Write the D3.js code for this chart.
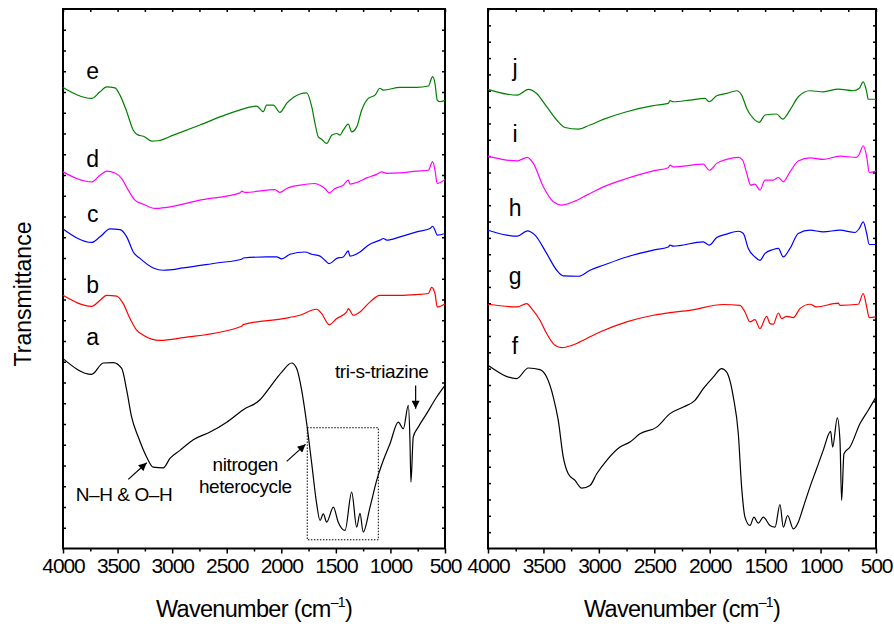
<!DOCTYPE html>
<html>
<head>
<meta charset="utf-8">
<script src="https://cdn.jsdelivr.net/npm/d3@7"></script>
<style>
    body { margin: 0; background: #fff; }
    svg { font-family: Arial, "Liberation Sans", sans-serif; }
</style>
</head>
<body>
<svg id="chart" width="894" height="626"></svg>
<script>
// ftir spectra, transmittance in arbitrary units (curves are stacked)

// left panel
const wnA = [4000,3737,3631,3539,3462,3416,3371,3310,3233,3173,3081,3020,2928,2806,2653,2500,2348,2195,2103,1996,1905,1859,1813,1767,1721,1676,1645,1615,1584,1523,1478,1416,1355,1309,1279,1249,1187,1126,1065,1004,928,882,836,821,812,791,745,668,576,500]
const tA = [9.15,8.39,8.94,8.96,8.68,7.62,6.33,5.37,4.40,3.92,3.89,4.34,4.73,5.24,5.61,6.09,6.69,7.17,7.78,8.50,8.94,8.67,7.62,6.02,4.09,2.16,1.35,1.67,1.27,1.99,1.27,0.87,2.72,1.03,1.69,0.79,1.99,3.28,4.25,5.05,6.09,5.77,6.90,5.21,3.20,5.37,5.85,6.50,7.30,7.86]

const wnB = [4000,3737,3661,3600,3508,3448,3386,3325,3264,3111,2898,2363,2348,1982,1829,1676,1630,1560,1492,1401,1386,1340,1279,1203,1096,912,759,653,622,592,571,500]
const tB = [12.20,11.67,11.96,12.20,12.16,11.80,11.08,10.52,10.28,10.03,10.16,10.71,10.79,11.08,11.24,11.53,11.32,10.79,11.08,11.40,11.56,11.24,11.40,11.80,12.20,12.20,12.24,12.29,12.58,12.29,11.64,11.80]

const wnC = [4000,3737,3661,3569,3478,3416,3356,3295,3173,3081,2898,2592,2363,2348,2134,2042,1996,1920,1783,1721,1645,1600,1560,1492,1432,1386,1371,1279,1203,1096,1065,1034,912,759,637,613,592,571,500]
const tC = [15.40,14.75,15.02,15.40,15.37,15.02,14.29,13.98,13.52,13.41,13.52,13.76,13.94,14.00,14.05,14.05,13.96,14.18,14.29,14.18,14.09,13.89,13.73,13.98,14.05,14.34,14.09,14.29,14.62,14.86,14.94,14.86,15.02,15.26,15.42,15.53,15.34,15.10,15.18]

const wnD = [4000,3737,3661,3600,3524,3462,3402,3340,3264,3157,3050,2745,2378,2363,2333,2134,2058,2012,1951,1829,1692,1645,1600,1560,1508,1432,1386,1371,1294,1218,1126,1080,1034,912,759,653,613,592,571,530,500]
const tD = [18.15,17.67,17.99,18.19,18.10,17.83,17.27,16.79,16.59,16.39,16.44,16.79,17.14,17.22,17.16,17.27,17.30,17.16,17.35,17.51,17.59,17.51,17.35,17.14,17.35,17.51,17.75,17.56,17.67,17.86,18.03,18.15,18.08,18.10,18.19,18.23,18.64,18.23,17.59,17.67,17.79]

const wnE = [4000,3737,3661,3600,3524,3478,3416,3356,3310,3264,3187,3127,2989,2745,2500,2363,2333,2225,2165,2134,2073,2012,1951,1890,1767,1721,1691,1661,1630,1584,1538,1492,1462,1432,1386,1355,1309,1263,1203,1141,1096,1065,912,759,653,613,592,571,546,500]
const tE = [22.22,21.69,22.01,22.25,22.20,21.85,21.05,20.16,19.92,19.87,19.63,19.65,19.92,20.41,20.92,21.16,21.21,21.32,21.05,21.37,21.37,21.02,21.45,21.74,21.96,21.29,20.49,19.84,19.72,19.52,19.92,20.00,19.92,20.16,20.45,20.08,20.32,21.13,21.69,21.85,22.18,22.09,22.22,22.22,22.29,22.74,22.42,21.61,21.53,21.61]

// right panel
const wnF = [4000,3741,3636,3531,3471,3411,3366,3321,3276,3215,3155,3080,3019,2929,2809,2719,2629,2478,2358,2238,2133,2058,1968,1892,1847,1787,1742,1712,1682,1637,1601,1562,1517,1456,1411,1366,1336,1297,1246,1201,1156,1096,1036,976,909,891,849,825,810,789,735,644,570,500]
const tF = [8.83,8.19,8.70,8.62,8.26,7.30,6.17,4.40,3.60,3.28,2.91,3.04,3.60,4.25,4.89,5.13,5.53,5.85,6.50,6.82,7.14,7.70,8.26,8.67,8.50,7.30,5.53,2.96,1.51,1.11,1.51,1.22,1.51,1.11,1.03,2.12,1.03,1.59,0.95,1.27,1.99,2.96,3.84,4.73,5.64,4.89,6.30,5.21,2.32,4.57,4.89,6.02,6.66,7.30]

const wnG = [4000,3736,3651,3606,3531,3471,3396,3335,3245,3110,2990,2749,2509,2358,2178,1878,1727,1682,1637,1592,1547,1487,1456,1427,1381,1351,1306,1246,1186,1096,1036,840,825,660,615,584,561,500]
const tG = [11.77,11.64,11.80,11.56,11.00,10.36,9.79,9.68,9.79,10.12,10.43,10.92,11.24,11.37,11.48,11.76,11.72,11.40,10.92,11.03,10.60,11.19,10.84,10.81,11.35,11.08,11.19,11.13,11.56,11.77,11.64,11.83,11.72,11.77,12.29,11.64,11.13,11.16]

const wnH = [4000,3831,3736,3645,3576,3471,3380,3321,3185,3080,2960,2749,2509,2374,2358,2329,2058,2004,1937,1847,1742,1697,1652,1592,1547,1501,1427,1381,1336,1276,1201,1096,976,825,690,651,615,584,561,500]
const tH = [15.34,15.10,15.05,15.31,15.10,14.22,13.41,13.14,13.12,13.41,13.65,14.05,14.38,14.53,14.62,14.57,14.78,14.62,14.99,15.15,15.29,15.18,14.46,14.05,13.89,14.22,14.41,14.46,14.05,14.46,15.18,15.34,15.26,15.34,15.23,15.42,15.74,15.18,14.65,14.65]

const wnI = [4000,3831,3736,3645,3591,3501,3411,3335,3231,3110,2960,2749,2509,2374,2358,2329,2058,2004,1937,1847,1742,1703,1666,1630,1592,1547,1501,1427,1381,1336,1276,1201,1096,976,825,675,651,615,584,561,500]
const tI = [18.91,18.72,18.68,18.85,18.56,17.43,16.71,16.55,16.71,17.03,17.43,17.83,18.20,18.35,18.48,18.39,18.52,18.23,18.56,18.75,18.85,18.72,18.08,17.51,17.56,17.27,17.75,17.75,17.88,17.67,18.15,18.67,18.83,18.75,18.91,18.85,19.01,19.41,18.88,18.12,18.19]

const wnJ = [4000,3831,3736,3636,3561,3471,3380,3305,3185,3080,2960,2749,2509,2374,2358,2329,2178,2043,2004,1937,1847,1757,1712,1666,1607,1553,1501,1396,1342,1276,1201,1096,976,840,705,651,615,584,570,500]
const tJ = [22.13,21.90,21.85,22.13,21.93,21.29,20.65,20.29,20.21,20.41,20.68,21.05,21.34,21.45,21.58,21.53,21.61,21.69,21.53,21.82,21.93,22.06,21.85,21.21,20.73,20.54,20.89,20.94,20.69,21.13,21.77,22.06,22.01,22.14,22.06,22.18,22.49,22.01,21.65,21.65]

// axis ticks
const majorTicks = [4000, 3500, 3000, 2500, 2000, 1500, 1000, 500]
const minorTicks = [3750, 3250, 2750, 2250, 1750, 1250, 750]
const colors = ["black", "#ff0000", "#0000ff", "#ff00ff", "#008000"]

const svg = d3.select("#chart")
const plotTop = 9
const plotBottom = 548.5

// draws one framed panel with its stacked spectra
function drawPanel(left, right, series, names, labelWn, labelT, yDivisions) {

    const x = d3.scaleLinear().domain([4000, 500]).range([left, right])
    const y = d3.scaleLinear().domain([0, 26]).range([plotBottom, plotTop])
    const yTicks = d3.range(1, yDivisions).map(i => i * 26 / yDivisions)
    const allTicks = majorTicks.concat(minorTicks)

    //bottom axis, labelled major ticks + short minor ticks pointing out
    const bottom = svg.append("g")
        .attr("transform", `translate(0, ${plotBottom})`)
        .call(d3.axisBottom(x).tickValues(majorTicks).tickSize(5).tickPadding(5).tickFormat(d3.format("d")))
    bottom.select(".domain").remove()
    bottom.selectAll("line").attr("stroke-width", 1.5)
    bottom.selectAll("text")
        .attr("font-size", 21)
        .attr("letter-spacing", -1.1)
        .attr("font-family", "Arial, 'Liberation Sans', sans-serif")
        .attr("fill", "black")

    const bottomMinor = svg.append("g")
        .attr("transform", `translate(0, ${plotBottom})`)
        .call(d3.axisBottom(x).tickValues(minorTicks).tickSize(3).tickFormat(""))
    bottomMinor.select(".domain").remove()
    bottomMinor.selectAll("line").attr("stroke-width", 1.5)

    //top axis ticks point inward
    const top = svg.append("g")
        .attr("transform", `translate(0, ${plotTop})`)
        .call(d3.axisTop(x).tickValues(allTicks).tickSize(-3).tickFormat(""))
    top.select(".domain").remove()
    top.selectAll("line").attr("stroke-width", 1.5)

    //left and right ticks, no labels on transmittance
    const leftAxis = svg.append("g")
        .attr("transform", `translate(${left}, 0)`)
        .call(d3.axisLeft(y).tickValues(yTicks).tickSize(-3).tickFormat(""))
    leftAxis.select(".domain").remove()
    leftAxis.selectAll("line").attr("stroke-width", 1.5)

    const rightAxis = svg.append("g")
        .attr("transform", `translate(${right}, 0)`)
        .call(d3.axisRight(y).tickValues(yTicks).tickSize(-3).tickFormat(""))
    rightAxis.select(".domain").remove()
    rightAxis.selectAll("line").attr("stroke-width", 1.5)

    //frame
    svg.append("rect")
        .attr("x", left)
        .attr("y", plotTop)
        .attr("width", right - left)
        .attr("height", plotBottom - plotTop)
        .attr("fill", "none")
        .attr("stroke", "black")
        .attr("stroke-width", 2)

    const line = d3.line()
        .x(d => x(d[0]))
        .y(d => y(d[1]))
        .curve(d3.curveMonotoneX)

    svg.append("g")
        .selectAll("path")
        .data(series)
        .enter()
        .append("path")
        .attr("d", d => line(d3.zip(d[0], d[1])))
        .attr("fill", "none")
        .attr("stroke", (d, i) => colors[i])
        .attr("stroke-width", 1.2)
        .attr("stroke-linejoin", "round")

    //sample letters
    svg.append("g")
        .selectAll("text")
        .data(names)
        .enter()
        .append("text")
        .attr("x", x(labelWn))
        .attr("y", (d, i) => y(labelT[i]))
        .attr("text-anchor", "middle")
        .attr("font-size", 23)
        .text(d => d)

    //x axis title with superscript
    const title = svg.append("text")
        .attr("x", (left + right) / 2)
        .attr("y", 617)
        .attr("text-anchor", "middle")
        .attr("font-size", 23.5)
        .attr("letter-spacing", -0.7)
    title.append("tspan").text("Wavenumber (cm")
    title.append("tspan").attr("font-size", 14).attr("dy", -10).text("\u20131")
    title.append("tspan").attr("dy", 10).text(")")

    return { x: x, y: y }
}

const leftPanel = drawPanel(63, 445,
    [[wnA, tA], [wnB, tB], [wnC, tC], [wnD, tD], [wnE, tE]],
    ["a", "b", "c", "d", "e"], 3728, [9.79, 12.29, 15.74, 18.39, 22.62], 26)

drawPanel(488, 876,
    [[wnF, tF], [wnG, tG], [wnH, tH], [wnI, tI], [wnJ, tJ]],
    ["f", "g", "h", "i", "j"], 3756, [9.39, 12.77, 16.02, 19.60, 22.77], 33)

//y axis title
svg.append("text")
    .attr("transform", "translate(31, 294) rotate(-90)")
    .attr("text-anchor", "middle")
    .attr("font-size", 23)
    .text("Transmittance")

// annotations on spectrum a
const ax = leftPanel.x
const ay = leftPanel.y

svg.append("defs")
    .append("marker")
    .attr("id", "head")
    .attr("viewBox", "0 0 10 10")
    .attr("refX", 10)
    .attr("refY", 5)
    .attr("markerWidth", 9)
    .attr("markerHeight", 8)
    .attr("markerUnits", "userSpaceOnUse")
    .attr("orient", "auto")
    .append("path")
    .attr("d", "M0,0L10,5L0,10z")
    .attr("fill", "black")

const arrows = [
    [3402, 3.33, 3233, 4.13],
    [1950, 4.20, 1778, 5.02],
    [769, 7.86, 769, 6.73]
]
svg.append("g")
    .selectAll("line")
    .data(arrows)
    .enter()
    .append("line")
    .attr("x1", d => ax(d[0]))
    .attr("y1", d => ay(d[1]))
    .attr("x2", d => ax(d[2]))
    .attr("y2", d => ay(d[3]))
    .attr("stroke", "black")
    .attr("stroke-width", 1.2)
    .attr("marker-end", "url(#head)")

const notes = [
    ["N\u2013H & O\u2013H", 3441, 2.28],
    ["nitrogen", 2330, 3.73],
    ["heterocycle", 2330, 2.67],
    ["tri-s-triazine", 1080, 8.22]
]
svg.append("g")
    .selectAll("text")
    .data(notes)
    .enter()
    .append("text")
    .attr("x", d => ax(d[1]))
    .attr("y", d => ay(d[2]))
    .attr("text-anchor", "middle")
    .attr("font-size", 19)
    .attr("letter-spacing", -0.4)
    .text(d => d[0])

//dotted box round the heterocycle bands
svg.append("rect")
    .attr("x", ax(1762))
    .attr("y", ay(5.82))
    .attr("width", ax(1111) - ax(1762))
    .attr("height", ay(0.42) - ay(5.82))
    .attr("fill", "none")
    .attr("stroke", "black")
    .attr("stroke-width", 1)
    .attr("stroke-dasharray", "1.5,1.5")
</script>
</body>
</html>
